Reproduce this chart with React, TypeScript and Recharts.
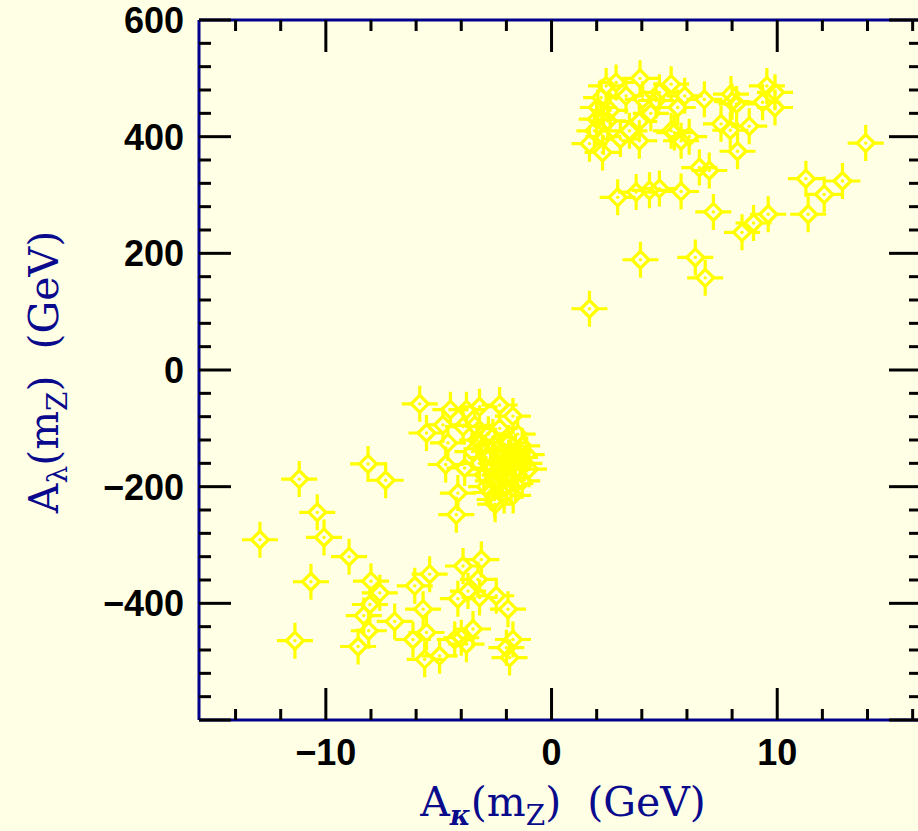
import React from "react";
import { ScatterChart, Scatter, XAxis, YAxis, Label } from "recharts";

// A_kappa (GeV), A_lambda (GeV), grouped by cluster
const upperPoints = [
  { x: 3.92, y: 500 }, { x: 6.77, y: 464 }, { x: 5.59, y: 450 }, { x: 7.51, y: 422 },
  { x: 8.76, y: 418 }, { x: 7.92, y: 411 }, { x: 9.54, y: 487 }, { x: 9.9, y: 476 },
  { x: 9.35, y: 459 }, { x: 9.9, y: 450 }, { x: 2.49, y: 427 }, { x: 3.45, y: 410 },
  { x: 3.05, y: 396 }, { x: 3.89, y: 426 }, { x: 3.89, y: 393 }, { x: 2.26, y: 373 },
  { x: 1.68, y: 388 }, { x: 5.74, y: 393 }, { x: 5.3, y: 410 }, { x: 8.24, y: 375 },
  { x: 6.55, y: 347 }, { x: 6.99, y: 342 }, { x: 13.92, y: 389 }, { x: 11.27, y: 328 },
  { x: 12.89, y: 324 }, { x: 12.08, y: 301 }, { x: 2.93, y: 296 }, { x: 3.75, y: 305 },
  { x: 4.34, y: 308 }, { x: 4.78, y: 311 }, { x: 5.74, y: 306 }, { x: 7.17, y: 271 },
  { x: 9.6, y: 267 }, { x: 8.95, y: 252 }, { x: 8.44, y: 236 }, { x: 11.37, y: 267 },
  { x: 3.94, y: 189 }, { x: 6.37, y: 193 }, { x: 6.81, y: 158 }, { x: 1.68, y: 105 },
  { x: 2.42, y: 487 }, { x: 2.86, y: 493 }, { x: 2.2, y: 467 }, { x: 4.78, y: 476 },
  { x: 5.3, y: 490 }, { x: 4.04, y: 464 }, { x: 4.63, y: 462 }, { x: 7.95, y: 473 },
  { x: 8.2, y: 456 }, { x: 2.05, y: 450 }, { x: 1.9, y: 410 }, { x: 5.44, y: 407 },
  { x: 2.6, y: 445 }, { x: 2.3, y: 400 }, { x: 3.3, y: 470 }, { x: 4.4, y: 440 },
  { x: 5.9, y: 470 }, { x: 6.1, y: 400 }, { x: 8.0, y: 460 }, { x: 2.0, y: 430 },
];

const middlePoints = [
  { x: -5.84, y: -58 }, { x: -2.3, y: -60 }, { x: -1.71, y: -79 }, { x: -4.48, y: -68 },
  { x: -4.81, y: -94 }, { x: -5.54, y: -108 }, { x: -4.59, y: -125 }, { x: -4.69, y: -162 },
  { x: -4.15, y: -211 }, { x: -4.22, y: -248 }, { x: -2.52, y: -222 }, { x: -3.85, y: -168 },
  { x: -3.19, y: -63 }, { x: -3.77, y: -68 }, { x: -3.92, y: -97 },
  { x: -2.8, y: -110 }, { x: -2.5, y: -130 }, { x: -2.2, y: -140 }, { x: -1.9, y: -150 },
  { x: -1.7, y: -160 }, { x: -2.0, y: -170 }, { x: -2.3, y: -180 }, { x: -2.6, y: -190 },
  { x: -2.0, y: -200 }, { x: -1.6, y: -140 }, { x: -1.4, y: -150 }, { x: -1.5, y: -170 },
  { x: -1.8, y: -185 }, { x: -2.4, y: -160 }, { x: -2.9, y: -150 }, { x: -3.1, y: -135 },
  { x: -2.7, y: -170 }, { x: -2.1, y: -215 }, { x: -2.7, y: -210 }, { x: -1.3, y: -130 },
  { x: -1.2, y: -160 }, { x: -1.9, y: -125 }, { x: -2.3, y: -100 }, { x: -3.3, y: -120 },
  { x: -3.0, y: -180 }, { x: -2.5, y: -230 }, { x: -1.6, y: -195 }, { x: -2.1, y: -155 },
  { x: -1.8, y: -140 }, { x: -3.4, y: -95 }, { x: -1.1, y: -145 }, { x: -1.0, y: -170 },
  { x: -1.3, y: -190 }, { x: -2.9, y: -200 }, { x: -3.2, y: -160 }, { x: -1.7, y: -215 },
  { x: -3.5, y: -140 }, { x: -2.6, y: -115 }, { x: -1.5, y: -110 },
  { x: -11.18, y: -187 }, { x: -8.13, y: -161 }, { x: -7.35, y: -189 }, { x: -10.38, y: -244 },
  { x: -10.08, y: -287 }, { x: -12.92, y: -291 }, { x: -8.97, y: -320 },
];

const lowerPoints = [
  { x: -10.66, y: -363 }, { x: -8.0, y: -362 }, { x: -7.61, y: -382 }, { x: -8.05, y: -402 },
  { x: -8.32, y: -421 }, { x: -8.1, y: -447 }, { x: -8.57, y: -474 }, { x: -11.37, y: -464 },
  { x: -6.95, y: -431 }, { x: -6.06, y: -370 }, { x: -5.4, y: -350 }, { x: -5.69, y: -410 },
  { x: -6.14, y: -462 }, { x: -5.62, y: -496 }, { x: -5.54, y: -450 }, { x: -4.96, y: -490 },
  { x: -4.15, y: -392 }, { x: -3.7, y: -379 }, { x: -3.92, y: -336 }, { x: -3.11, y: -325 },
  { x: -3.26, y: -359 }, { x: -3.19, y: -390 }, { x: -2.45, y: -387 }, { x: -1.93, y: -410 },
  { x: -3.48, y: -444 }, { x: -4.0, y: -459 }, { x: -4.29, y: -462 }, { x: -1.71, y: -462 },
  { x: -2.0, y: -476 }, { x: -1.86, y: -493 }, { x: -3.77, y: -470 },
];

const xTicks = [-14, -12, -10, -8, -6, -4, -2, 0, 2, 4, 6, 8, 10, 12, 14, 16];
const xLabelled = [-10, 0, 10];
const yTicks = Array.from({ length: 31 }, (_, i) => -600 + i * 40);
const yLabelled = [-400, -200, 0, 200, 400, 600];

const X_DOMAIN: [number, number] = [-15.62, 16.37];
const Y_DOMAIN: [number, number] = [-600, 600];

const BG = "#FFFFE6";
const FRAME = "#00008B";
const TITLE = "#0A0A8C";
const MARK = "#FFFF00";
const tickFont = { fontFamily: "Liberation Sans", fontSize: 36, fontWeight: 700 };
const titleFont = { fontFamily: "DejaVu Serif", fontSize: 41 };

const num = (v: number) => (v < 0 ? "\u2212" + Math.abs(v) : String(v));

function Star(props: any) {
  const { cx, cy } = props;
  if (cx == null || cy == null) return null;
  const a = 18;
  const d = 8.5;
  return (
    <g stroke={MARK} strokeWidth={3.2} fill="none">
      <path d={`M${cx - a},${cy}H${cx - d}M${cx + d},${cy}H${cx + a}M${cx},${cy - a}V${cy - d}M${cx},${cy + d}V${cy + a}`} />
      <path d={`M${cx - d},${cy}L${cx},${cy - d}L${cx + d},${cy}L${cx},${cy + d}Z`} />
      <circle cx={cx} cy={cy} r={1.7} fill={MARK} stroke="none" />
    </g>
  );
}

function BottomTick({ x, y, payload }: any) {
  const major = xLabelled.includes(payload.value);
  return (
    <g>
      <line x1={x} x2={x} y1={y} y2={y - (major ? 32 : 11)} stroke="#000" strokeWidth={3} />
      {major && (
        <text x={x} y={y + 45} textAnchor="middle" fill="#000" {...tickFont}>
          {num(payload.value)}
        </text>
      )}
    </g>
  );
}

function TopTick({ x, y, payload }: any) {
  const major = xLabelled.includes(payload.value);
  return <line x1={x} x2={x} y1={y} y2={y + (major ? 32 : 11)} stroke="#000" strokeWidth={3} />;
}

function LeftTick({ x, y, payload }: any) {
  const major = payload.value % 200 === 0;
  return (
    <g>
      <line x1={x} x2={x + (major ? 32 : 12)} y1={y} y2={y} stroke="#000" strokeWidth={3} />
      {yLabelled.includes(payload.value) && (
        <text x={x - 15} y={y + 13} textAnchor="end" fill="#000" {...tickFont}>
          {num(payload.value)}
        </text>
      )}
    </g>
  );
}

function RightTick({ x, y, payload }: any) {
  const major = payload.value % 200 === 0;
  return <line x1={x} x2={x - (major ? 32 : 12)} y1={y} y2={y} stroke="#000" strokeWidth={3} />;
}

function XTitle({ viewBox }: any) {
  const cx = viewBox.x + viewBox.width / 2 + 3;
  return (
    <text x={cx} y={viewBox.y + 96} textAnchor="middle" fill={TITLE} {...titleFont} style={{ whiteSpace: "pre" }}>
      A
      <tspan fontSize={28} fontStyle="italic" fontWeight={700} dy={9}>κ</tspan>
      <tspan dy={-9}>(m</tspan>
      <tspan fontSize={28} dy={9}>Z</tspan>
      <tspan dy={-9}>)  (GeV)</tspan>
    </text>
  );
}

function YTitle({ viewBox }: any) {
  const cx = 58;
  const cy = viewBox.y + viewBox.height / 2 + 2;
  return (
    <text
      x={cx}
      y={cy}
      textAnchor="middle"
      fill={TITLE}
      transform={`rotate(-90 ${cx} ${cy})`}
      {...titleFont}
      style={{ whiteSpace: "pre" }}
    >
      A
      <tspan fontSize={28} dy={9}>λ</tspan>
      <tspan dy={-9}>(m</tspan>
      <tspan fontSize={28} dy={9}>Z</tspan>
      <tspan dy={-9}>)  (GeV)</tspan>
    </text>
  );
}

export default function App() {
  return (
    <div style={{ position: "fixed", inset: 0, background: BG, overflow: "hidden" }}>
      <ScatterChart width={930} height={831} margin={{ top: 19, right: 8, bottom: 0, left: 0 }}>
        <XAxis
          dataKey="x"
          type="number"
          domain={X_DOMAIN}
          ticks={xTicks}
          interval={0}
          allowDataOverflow
          height={111}
          tickSize={0}
          tickMargin={0}
          tickLine={false}
          tick={<BottomTick />}
          axisLine={{ stroke: FRAME, strokeWidth: 3 }}
        >
          <Label content={<XTitle />} />
        </XAxis>
        <XAxis
          xAxisId="top"
          dataKey="x"
          orientation="top"
          type="number"
          domain={X_DOMAIN}
          ticks={xTicks}
          interval={0}
          allowDataOverflow
          height={1}
          tickSize={0}
          tickMargin={0}
          tickLine={false}
          tick={<TopTick />}
          axisLine={{ stroke: FRAME, strokeWidth: 3 }}
        />
        <YAxis
          dataKey="y"
          type="number"
          domain={Y_DOMAIN}
          ticks={yTicks}
          interval={0}
          allowDataOverflow
          width={199}
          tickSize={0}
          tickMargin={0}
          tickLine={false}
          tick={<LeftTick />}
          axisLine={{ stroke: FRAME, strokeWidth: 3 }}
        >
          <Label content={<YTitle />} />
        </YAxis>
        <YAxis
          yAxisId="right"
          dataKey="y"
          orientation="right"
          type="number"
          domain={Y_DOMAIN}
          ticks={yTicks}
          interval={0}
          allowDataOverflow
          width={1}
          tickSize={0}
          tickMargin={0}
          tickLine={false}
          tick={<RightTick />}
          axisLine={{ stroke: FRAME, strokeWidth: 3 }}
        />
        <Scatter data={upperPoints} shape={<Star />} isAnimationActive={false} />
        <Scatter data={middlePoints} shape={<Star />} isAnimationActive={false} />
        <Scatter data={lowerPoints} shape={<Star />} isAnimationActive={false} />
      </ScatterChart>
    </div>
  );
}
